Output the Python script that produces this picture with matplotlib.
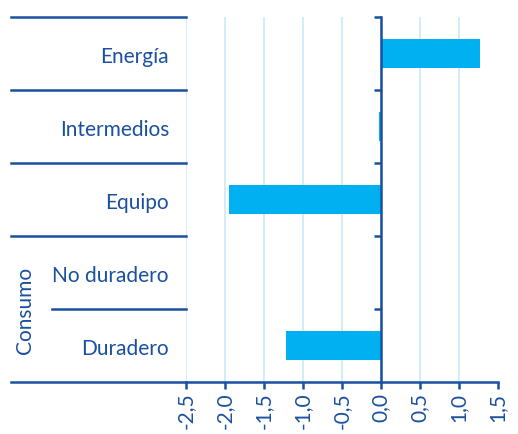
import matplotlib
matplotlib.use("Agg")
import matplotlib.pyplot as plt
from matplotlib.lines import Line2D
from matplotlib.transforms import blended_transform_factory

categories = ["Energía", "Intermedios", "Equipo", "No duradero", "Duradero"]
values = [1.27, -0.02, -1.95, 0.02, -1.22]
xticks = [-2.5, -2.0, -1.5, -1.0, -0.5, 0.0, 0.5, 1.0, 1.5]
group_label = "Consumo"

DARK = "#1a50a0"
BAR = "#00b0f0"
GRID = "#c9e9f8"
FS = 15

plt.rcParams["font.family"] = ["Lato", "DejaVu Sans"]

W, H = 518, 435
fig = plt.figure(figsize=(W / 100, H / 100), dpi=100)
x0, x1, y0, y1 = 186, 497.5, 18, 383
ax = fig.add_axes([x0 / W, 1 - y1 / H, (x1 - x0) / W, (y1 - y0) / H])

pos = list(range(len(categories)))
ax.barh(pos, values, height=0.4, color=BAR, zorder=2)
ax.set_ylim(len(categories) - 0.5, -0.5)
ax.set_xlim(-2.5, 1.5)

ax.set_xticks(xticks)
ax.set_xticklabels([f"{t:.1f}".replace(".", ",") for t in xticks], rotation=90,
                   fontsize=FS, color=DARK)
ax.tick_params(axis="x", direction="out", length=5, width=1.8, color=DARK, pad=2)
ax.xaxis.grid(True, color=GRID, linewidth=1.2, zorder=0)
ax.set_axisbelow(True)

ax.set_yticks([])
ax.set_yticks([p - 0.5 for p in pos], minor=True)
ax.tick_params(axis="y", which="minor", direction="out", length=5, width=1.8, color=DARK)
ax.tick_params(axis="y", which="minor", labelleft=False)

for s in ["top", "right"]:
    ax.spines[s].set_visible(False)
ax.spines["left"].set_position(("data", 0))
ax.spines["left"].set_color(DARK)
ax.spines["left"].set_linewidth(1.8)
ax.spines["left"].set_zorder(3)
ax.spines["bottom"].set_color(DARK)
ax.spines["bottom"].set_linewidth(1.8)

# category labels on the left
tr = blended_transform_factory(ax.transAxes, ax.transData)


def fx(px):
    return (px - x0) / (x1 - x0)


for p, c in zip(pos, categories):
    ax.text(fx(169), p + 0.03, c, transform=tr, ha="right", va="center", fontsize=FS, color=DARK)

# separator lines left of the plot area
starts = [11, 11, 11, 11, 52, 11]
for i, sx in enumerate(starts):
    yy = i - 0.5
    ax.add_line(Line2D([fx(sx), 0], [yy, yy], transform=tr, color=DARK,
                       linewidth=1.8, clip_on=False))

ax.text(fx(25), 3.5, group_label, transform=tr, rotation=90, ha="center", va="center",
        fontsize=FS, color=DARK)

fig.savefig("out.png", dpi=100)
